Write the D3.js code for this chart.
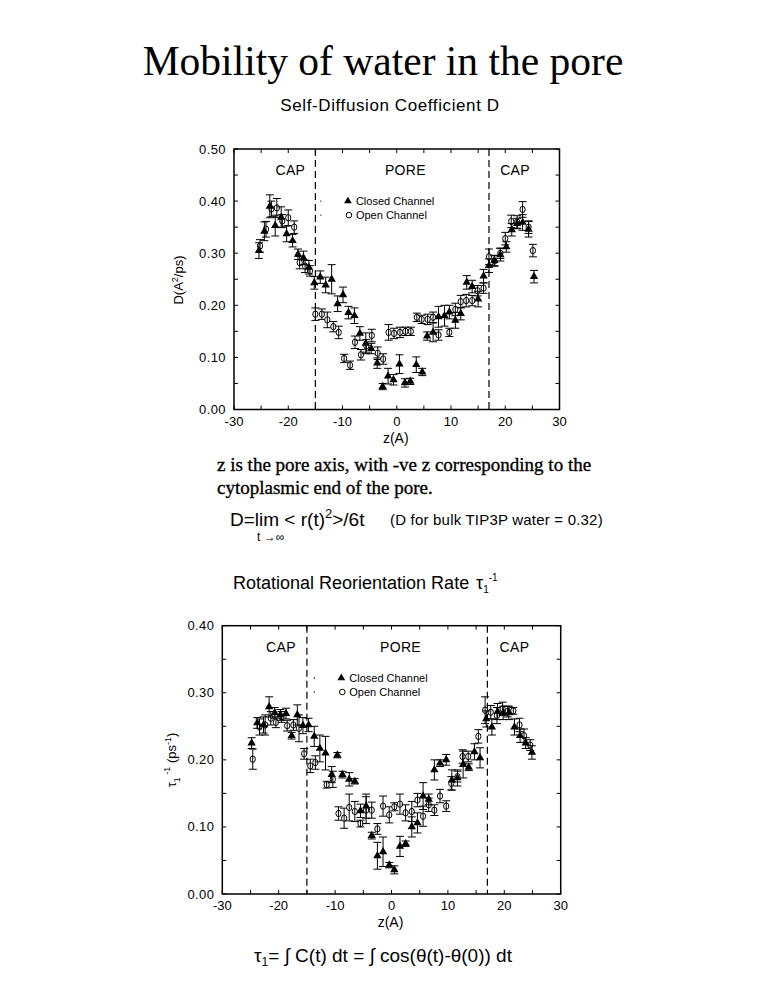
<!DOCTYPE html>
<html>
<head>
<meta charset="utf-8">
<script src="https://cdn.jsdelivr.net/npm/d3@7"></script>
<style>
  body { margin: 0; background: #fff; }
  svg text { fill: #000; }
  .sans { font-family: "Liberation Sans", Arial, sans-serif; }
  .serif { font-family: "Liberation Serif", "Times New Roman", serif; }
</style>
</head>
<body>
<svg width="773" height="1002"></svg>
<script>
// ---- data: [z, value, error] ----
const diffClosed = [
  [-25.4, 0.305, 0.015], [-24.4, 0.342, 0.018], [-23.4, 0.390, 0.022], [-22.4, 0.353, 0.020],
  [-21.3, 0.369, 0.020], [-20.3, 0.337, 0.015], [-19.2, 0.324, 0.012], [-18.2, 0.298, 0.010],
  [-17.2, 0.291, 0.013], [-16.2, 0.273, 0.013], [-15.2, 0.243, 0.012], [-14.1, 0.254, 0.012],
  [-13.1, 0.239, 0.015], [-12.0, 0.250, 0.028], [-10.9, 0.203, 0.015], [-9.9, 0.220, 0.015],
  [-8.9, 0.186, 0.012], [-7.8, 0.180, 0.015], [-6.8, 0.146, 0.013], [-5.7, 0.127, 0.020],
  [-4.7, 0.117, 0.010], [-3.6, 0.089, 0.010], [-2.6, 0.044, 0.006], [-1.6, 0.064, 0.015],
  [-0.6, 0.057, 0.010], [0.5, 0.087, 0.018], [1.5, 0.051, 0.008], [2.5, 0.054, 0.006],
  [3.6, 0.086, 0.015], [4.7, 0.072, 0.007], [5.6, 0.141, 0.008], [6.7, 0.148, 0.018],
  [7.7, 0.178, 0.020], [8.8, 0.180, 0.020], [9.7, 0.187, 0.013], [10.8, 0.171, 0.015],
  [11.8, 0.184, 0.012], [12.9, 0.244, 0.013], [13.9, 0.236, 0.012], [15.0, 0.212, 0.015],
  [16.0, 0.256, 0.013], [17.0, 0.276, 0.013], [18.0, 0.286, 0.010], [19.1, 0.297, 0.012],
  [20.2, 0.312, 0.010], [21.2, 0.345, 0.012], [22.2, 0.357, 0.010], [23.2, 0.359, 0.015],
  [24.3, 0.346, 0.015], [25.3, 0.255, 0.012]
];
const diffOpen = [
  [-25.2, 0.314, 0.012], [-24.1, 0.346, 0.015], [-23.1, 0.385, 0.015], [-22.1, 0.387, 0.018],
  [-21.1, 0.362, 0.012], [-20.0, 0.368, 0.015], [-18.9, 0.350, 0.012], [-17.9, 0.282, 0.012],
  [-16.9, 0.275, 0.012], [-16.0, 0.266, 0.010], [-15.0, 0.183, 0.012], [-13.8, 0.183, 0.010],
  [-12.8, 0.172, 0.015], [-11.7, 0.159, 0.010], [-10.7, 0.148, 0.012], [-9.7, 0.098, 0.008],
  [-8.6, 0.085, 0.008], [-7.7, 0.129, 0.012], [-6.6, 0.105, 0.010], [-5.6, 0.122, 0.012],
  [-4.6, 0.142, 0.012], [-3.5, 0.108, 0.012], [-2.5, 0.097, 0.010], [-1.5, 0.148, 0.015],
  [-0.5, 0.146, 0.010], [0.6, 0.148, 0.010], [1.6, 0.150, 0.008], [2.6, 0.150, 0.008],
  [3.7, 0.177, 0.008], [4.6, 0.173, 0.008], [5.7, 0.173, 0.010], [6.7, 0.177, 0.010],
  [7.7, 0.143, 0.010], [9.7, 0.148, 0.008], [10.8, 0.192, 0.012], [11.8, 0.207, 0.012],
  [12.8, 0.209, 0.012], [13.9, 0.209, 0.010], [14.9, 0.228, 0.010], [16.0, 0.233, 0.010],
  [17.0, 0.293, 0.015], [18.0, 0.285, 0.010], [19.1, 0.300, 0.010], [20.0, 0.328, 0.012],
  [21.1, 0.361, 0.012], [22.2, 0.360, 0.012], [23.2, 0.384, 0.015], [24.3, 0.350, 0.012],
  [25.1, 0.305, 0.012]
];
const rotClosed = [
  [-24.8, 0.225, 0.008], [-23.8, 0.255, 0.008], [-22.7, 0.252, 0.012], [-21.7, 0.279, 0.015],
  [-20.7, 0.270, 0.008], [-19.7, 0.267, 0.008], [-18.7, 0.269, 0.008], [-17.7, 0.236, 0.005],
  [-16.7, 0.267, 0.015], [-15.7, 0.251, 0.012], [-14.7, 0.252, 0.010], [-13.7, 0.235, 0.015],
  [-12.7, 0.217, 0.020], [-11.7, 0.210, 0.025], [-10.6, 0.178, 0.012], [-9.6, 0.207, 0.004],
  [-8.7, 0.178, 0.005], [-7.5, 0.171, 0.010], [-6.5, 0.168, 0.004], [-5.5, 0.124, 0.010],
  [-4.5, 0.131, 0.018], [-3.5, 0.087, 0.005], [-2.5, 0.057, 0.020], [-1.5, 0.063, 0.022],
  [-0.4, 0.043, 0.004], [0.5, 0.036, 0.006], [1.5, 0.071, 0.015], [2.5, 0.075, 0.004],
  [3.6, 0.100, 0.015], [4.6, 0.106, 0.015], [5.6, 0.146, 0.020], [6.6, 0.141, 0.008],
  [7.6, 0.185, 0.015], [8.6, 0.195, 0.005], [9.7, 0.200, 0.008], [10.7, 0.170, 0.015],
  [11.7, 0.173, 0.012], [12.7, 0.193, 0.020], [13.7, 0.189, 0.005], [14.7, 0.212, 0.012],
  [15.7, 0.203, 0.015], [16.8, 0.261, 0.012], [17.8, 0.249, 0.012], [18.8, 0.272, 0.012],
  [19.8, 0.270, 0.010], [20.8, 0.270, 0.010], [21.8, 0.249, 0.012], [22.8, 0.236, 0.010],
  [23.8, 0.225, 0.008], [24.9, 0.211, 0.010]
];
const rotOpen = [
  [-24.6, 0.201, 0.015], [-23.4, 0.249, 0.012], [-22.4, 0.252, 0.015], [-21.4, 0.262, 0.010],
  [-20.5, 0.256, 0.008], [-19.5, 0.264, 0.008], [-18.5, 0.251, 0.008], [-17.4, 0.252, 0.008],
  [-16.4, 0.247, 0.020], [-15.5, 0.209, 0.008], [-14.4, 0.191, 0.010], [-13.5, 0.196, 0.010],
  [-11.5, 0.163, 0.005], [-10.4, 0.171, 0.012], [-9.4, 0.120, 0.010], [-8.4, 0.113, 0.015],
  [-7.5, 0.129, 0.020], [-6.5, 0.123, 0.015], [-5.5, 0.105, 0.005], [-4.5, 0.125, 0.020],
  [-3.5, 0.125, 0.012], [-2.5, 0.097, 0.008], [-1.5, 0.131, 0.015], [-0.4, 0.118, 0.012],
  [0.5, 0.130, 0.006], [1.5, 0.134, 0.015], [2.5, 0.121, 0.012], [3.6, 0.123, 0.015],
  [4.6, 0.140, 0.010], [5.6, 0.116, 0.015], [6.6, 0.133, 0.010], [7.6, 0.125, 0.008],
  [8.6, 0.146, 0.010], [9.7, 0.131, 0.008], [10.6, 0.165, 0.010], [11.7, 0.175, 0.008],
  [12.6, 0.205, 0.010], [13.6, 0.205, 0.008], [15.4, 0.235, 0.010], [16.6, 0.274, 0.020],
  [17.6, 0.271, 0.010], [18.7, 0.266, 0.012], [19.7, 0.276, 0.010], [20.6, 0.272, 0.008],
  [21.6, 0.273, 0.005], [22.7, 0.252, 0.010], [23.5, 0.236, 0.010], [24.6, 0.222, 0.008]
];
const xTicks = [-30, -20, -10, 0, 10, 20, 30];
const poreEdges = [-15, 17];
const regionLabels = [["CAP", -19.6], ["PORE", 1.6], ["CAP", 21.8]];
const legendLabels = ["Closed Channel", "Open Channel"];

const svg = d3.select("svg");

// title and captions
svg.append("text").attr("class", "serif").attr("x", 383).attr("y", 75)
  .attr("text-anchor", "middle").style("font-size", "41.5px").text("Mobility of water in the pore");
svg.append("text").attr("class", "sans").attr("x", 390).attr("y", 111)
  .attr("text-anchor", "middle").style("font-size", "17px").style("letter-spacing", "0.6px")
  .text("Self-Diffusion Coefficient D");

function drawPanel(opt) {
  const x = d3.scaleLinear().domain([-30, 30]).range([opt.left, opt.right]);
  const y = d3.scaleLinear().domain([0, opt.ymax]).range([opt.bottom, opt.top]);
  const g = svg.append("g");

  // minor ticks, inward, on all four sides
  const xt = d3.range(-30, 30.01, 5);
  const yt = d3.range(0, opt.ymax + 0.0001, 0.05);
  g.selectAll(".xb").data(xt).enter().append("line")
    .attr("x1", d => x(d)).attr("x2", d => x(d))
    .attr("y1", opt.bottom).attr("y2", opt.bottom - 4).attr("stroke", "#000");
  g.selectAll(".xt").data(xt).enter().append("line")
    .attr("x1", d => x(d)).attr("x2", d => x(d))
    .attr("y1", opt.top).attr("y2", opt.top + 4).attr("stroke", "#000");
  g.selectAll(".yl").data(yt).enter().append("line")
    .attr("x1", opt.left).attr("x2", opt.left + 4)
    .attr("y1", d => y(d)).attr("y2", d => y(d)).attr("stroke", "#000");
  g.selectAll(".yr").data(yt).enter().append("line")
    .attr("x1", opt.right).attr("x2", opt.right - 4)
    .attr("y1", d => y(d)).attr("y2", d => y(d)).attr("stroke", "#000");

  g.append("rect").attr("x", opt.left).attr("y", opt.top)
    .attr("width", opt.right - opt.left).attr("height", opt.bottom - opt.top)
    .attr("fill", "none").attr("stroke", "#000").attr("stroke-width", 1.5);

  // tick labels
  g.selectAll(".xlab").data(xTicks).enter().append("text").attr("class", "sans")
    .attr("x", d => x(d)).attr("y", opt.bottom + 16).attr("text-anchor", "middle")
    .style("font-size", "13px").text(d => d);
  g.selectAll(".ylab").data(d3.range(0, opt.ymax + 0.0001, 0.1)).enter().append("text")
    .attr("class", "sans").attr("x", opt.left - 8).attr("y", d => y(d) + 4.5)
    .attr("text-anchor", "end").style("font-size", "13px").style("letter-spacing", "0.4px")
    .text(d3.format(".2f"));

  g.append("text").attr("class", "sans").attr("x", (opt.left + opt.right) / 2 - 1)
    .attr("y", opt.bottom + 33).attr("text-anchor", "middle").style("font-size", "14px").text("z(A)");

  // pore boundaries
  g.selectAll(".edge").data(poreEdges).enter().append("line")
    .attr("x1", d => x(d)).attr("x2", d => x(d))
    .attr("y1", opt.top).attr("y2", opt.bottom)
    .attr("stroke", "#000").attr("stroke-width", 1.2).attr("stroke-dasharray", "7,4");

  g.selectAll(".reg").data(regionLabels).enter().append("text").attr("class", "sans")
    .attr("x", d => x(d[1])).attr("y", opt.top + 26).attr("text-anchor", "middle")
    .style("font-size", "14px").style("letter-spacing", "0.3px").text(d => d[0]);

  // legend
  const lx = x(opt.legendZ), ly = y(opt.legendY);
  [0, 1].forEach(i => {
    g.append("circle").attr("cx", lx - 27).attr("cy", ly + i * 14).attr("r", 0.7).attr("fill", "#000");
    g.append("text").attr("class", "sans").attr("x", lx + 8).attr("y", ly + i * 14 + 4)
      .style("font-size", "11px").text(legendLabels[i]);
  });
  g.append("path").attr("d", d3.symbol(d3.symbolTriangle, 26)())
    .attr("transform", `translate(${lx},${ly})`).attr("fill", "#000");
  g.append("circle").attr("cx", lx + 1).attr("cy", ly + 14).attr("r", 2.8)
    .attr("fill", "#fff").attr("stroke", "#000");

  // error bars + markers
  function series(data, closed) {
    const s = g.append("g");
    const pts = s.selectAll("g").data(data).enter().append("g");
    if (!closed) {
      pts.append("ellipse").attr("cx", d => x(d[0])).attr("cy", d => y(d[1]))
        .attr("rx", 2.6).attr("ry", 3.2).attr("fill", "#fff").attr("stroke", "#000");
    }
    pts.append("line").attr("x1", d => x(d[0])).attr("x2", d => x(d[0]))
      .attr("y1", d => y(d[1] - d[2])).attr("y2", d => y(d[1] + d[2])).attr("stroke", "#000");
    pts.append("line").attr("x1", d => x(d[0]) - 4).attr("x2", d => x(d[0]) + 4)
      .attr("y1", d => y(d[1] + d[2])).attr("y2", d => y(d[1] + d[2])).attr("stroke", "#000");
    pts.append("line").attr("x1", d => x(d[0]) - 4).attr("x2", d => x(d[0]) + 4)
      .attr("y1", d => y(d[1] - d[2])).attr("y2", d => y(d[1] - d[2])).attr("stroke", "#000");
    if (closed) {
      pts.append("path").attr("d", d3.symbol(d3.symbolTriangle, 30)())
        .attr("transform", d => `translate(${x(d[0])},${y(d[1])})`).attr("fill", "#000");
    }
  }
  series(opt.open, false);
  series(opt.closed, true);
  return { x, y };
}

drawPanel({ left: 234, right: 559.5, top: 149, bottom: 409.5, ymax: 0.5,
  closed: diffClosed, open: diffOpen, legendZ: -9.0, legendY: 0.40 });

// top y label: D(A^2/ps)
const yl1 = svg.append("text").attr("class", "sans").style("font-size", "13px")
  .attr("transform", "translate(183,280) rotate(-90)").attr("text-anchor", "middle");
yl1.append("tspan").text("D(A");
yl1.append("tspan").attr("dy", -5).style("font-size", "9px").text("2");
yl1.append("tspan").attr("dy", 5).text("/ps)");

// explanatory text
svg.append("text").attr("class", "serif").attr("x", 217).attr("y", 471)
  .style("font-size", "19px").attr("stroke", "#000").attr("stroke-width", 0.35)
  .text("z is the pore axis, with -ve z corresponding to the");
svg.append("text").attr("class", "serif").attr("x", 217).attr("y", 494)
  .style("font-size", "19px").attr("stroke", "#000").attr("stroke-width", 0.35)
  .text("cytoplasmic end of the pore.");

const f1 = svg.append("text").attr("class", "sans").attr("x", 230).attr("y", 526).style("font-size", "19px");
f1.append("tspan").text("D=lim < r(t)");
f1.append("tspan").attr("dy", -8).style("font-size", "13px").text("2");
f1.append("tspan").attr("dy", 8).text(">/6t");
svg.append("text").attr("class", "sans").attr("x", 257).attr("y", 541).style("font-size", "12px").text("t \u2192\u221e");
svg.append("text").attr("class", "sans").attr("x", 390).attr("y", 525).style("font-size", "15px")
  .style("letter-spacing", "0.2px").text("(D for bulk TIP3P water = 0.32)");

const t2 = svg.append("text").attr("class", "sans").attr("x", 233).attr("y", 589).style("font-size", "18px");
t2.append("tspan").text("Rotational Reorientation Rate");
t2.append("tspan").attr("x", 476).text("\u03c4");
t2.append("tspan").attr("dy", 4).style("font-size", "10px").text("1");
t2.append("tspan").attr("dy", -12).style("font-size", "10px").text("-1");

drawPanel({ left: 222.3, right: 560.7, top: 625.7, bottom: 894, ymax: 0.4,
  closed: rotClosed, open: rotOpen, legendZ: -8.9, legendY: 0.322 });

// bottom y label
const yl2 = svg.append("text").attr("class", "sans").style("font-size", "13px")
  .attr("transform", "translate(176,760) rotate(-90)").attr("text-anchor", "middle");
yl2.append("tspan").text("\u03c4");
yl2.append("tspan").attr("dy", 4).style("font-size", "9px").text("1");
yl2.append("tspan").attr("dy", -10).style("font-size", "9px").text(" -1");
yl2.append("tspan").attr("dy", 6).text(" (ps");
yl2.append("tspan").attr("dy", -5).style("font-size", "9px").text("-1");
yl2.append("tspan").attr("dy", 5).text(")");

const f2 = svg.append("text").attr("class", "sans").attr("x", 383).attr("y", 962)
  .attr("text-anchor", "middle").style("font-size", "19px");
f2.append("tspan").text("\u03c4");
f2.append("tspan").attr("dy", 4).style("font-size", "12px").text("1");
f2.append("tspan").attr("dy", -4).text("= \u222b C(t) dt = \u222b cos(\u03b8(t)-\u03b8(0)) dt");
</script>
</body>
</html>
